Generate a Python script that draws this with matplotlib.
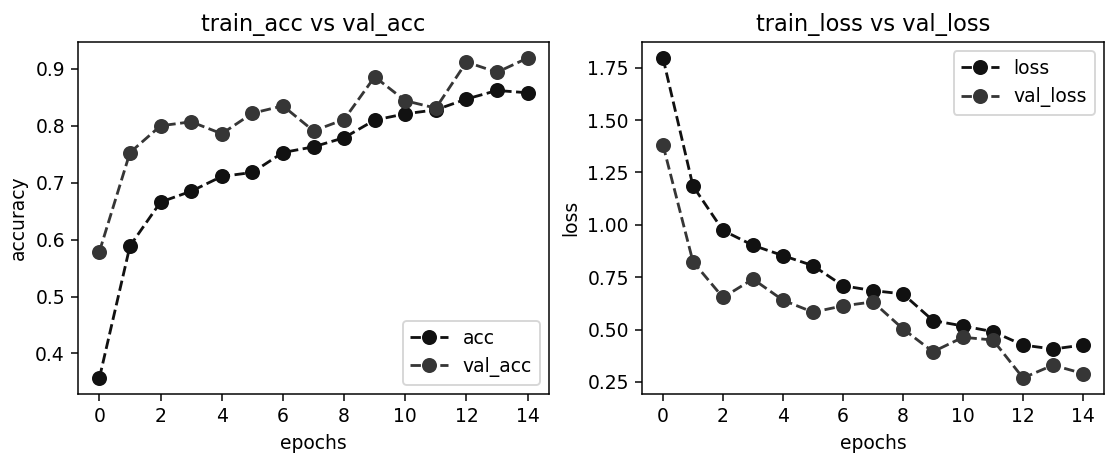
import matplotlib
matplotlib.use("Agg")
import matplotlib.pyplot as plt
from matplotlib.ticker import MultipleLocator, FormatStrFormatter

epochs = list(range(15))
acc = [0.357, 0.589, 0.666, 0.685, 0.711, 0.718, 0.753, 0.763, 0.779, 0.810, 0.821, 0.828, 0.847, 0.862, 0.858]
val_acc = [0.579, 0.753, 0.800, 0.807, 0.786, 0.822, 0.835, 0.791, 0.811, 0.886, 0.844, 0.831, 0.912, 0.894, 0.919]
loss = [1.796, 1.185, 0.973, 0.902, 0.853, 0.805, 0.709, 0.686, 0.670, 0.543, 0.517, 0.490, 0.426, 0.407, 0.426]
val_loss = [1.381, 0.824, 0.653, 0.741, 0.640, 0.583, 0.613, 0.632, 0.503, 0.394, 0.463, 0.450, 0.269, 0.330, 0.290]

c_train = "#111111"
c_val = "#363636"

fig = plt.figure(figsize=(1108 / 135, 457 / 135), dpi=135)
ax1 = fig.add_axes([0.0704, 0.138, 0.4251, 0.770])
ax2 = fig.add_axes([0.5794, 0.138, 0.4170, 0.770])

ax1.plot(epochs, acc, "--o", color=c_train, markersize=7, label="acc")
ax1.plot(epochs, val_acc, "--o", color=c_val, markersize=7, label="val_acc")
ax1.set_title("train_acc vs val_acc")
ax1.set_xlabel("epochs")
ax1.set_ylabel("accuracy")
ax1.legend(loc="lower right")

ax2.plot(epochs, loss, "--o", color=c_train, markersize=7, label="loss")
ax2.plot(epochs, val_loss, "--o", color=c_val, markersize=7, label="val_loss")
ax2.set_title("train_loss vs val_loss")
ax2.set_xlabel("epochs")
ax2.set_ylabel("loss")
ax2.yaxis.set_major_locator(MultipleLocator(0.25))
ax2.yaxis.set_major_formatter(FormatStrFormatter("%.2f"))
ax2.legend(loc="upper right")

fig.savefig("out.png", dpi=135)
